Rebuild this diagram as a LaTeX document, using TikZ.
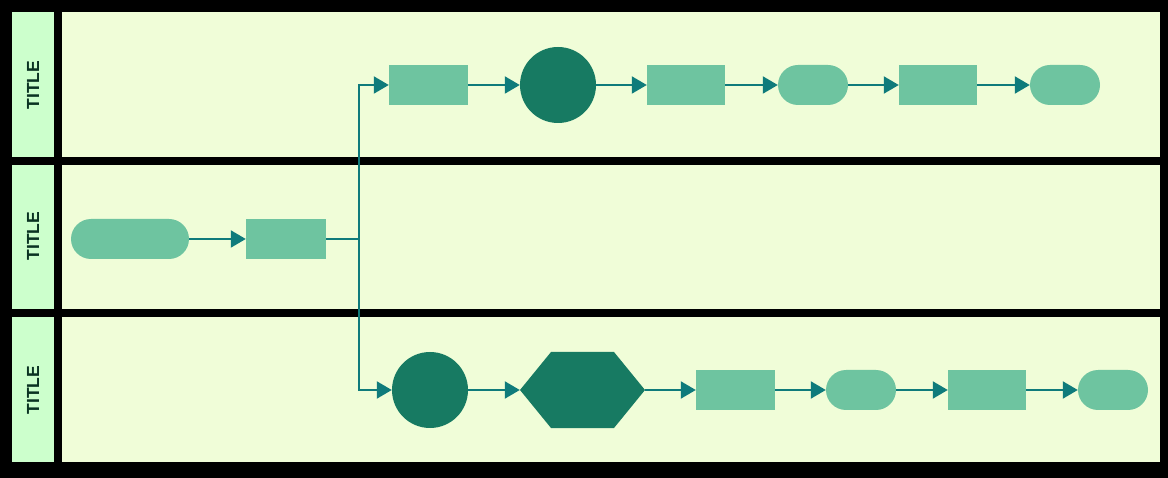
\documentclass[tikz,border=0pt]{standalone}
\usepackage{fontspec}
\setmainfont{Liberation Sans}
\usetikzlibrary{positioning,arrows.meta,shapes.geometric}

\definecolor{lanebg}{HTML}{F0FDD8}
\definecolor{titlebg}{HTML}{CCFFCC}
\definecolor{titletxt}{HTML}{0A3322}
\definecolor{lightgreen}{HTML}{6EC4A0}
\definecolor{darkgreen}{HTML}{177A62}
\definecolor{flowline}{HTML}{0F7B7B}

\tikzset{
  task/.style={fill=lightgreen, minimum width=79pt, minimum height=40pt, inner sep=0pt},
  pill/.style={fill=lightgreen, rounded corners=20pt, minimum width=70pt, minimum height=40pt, inner sep=0pt},
  event/.style={circle, fill=darkgreen, minimum size=76pt, inner sep=0pt},
  hexbox/.style={minimum width=125pt, minimum height=76pt, inner sep=0pt,
    path picture={\fill[darkgreen] (path picture bounding box.west)
      -- ([xshift=31pt]path picture bounding box.north west)
      -- ([xshift=-31pt]path picture bounding box.north east)
      -- (path picture bounding box.east)
      -- ([xshift=-31pt]path picture bounding box.south east)
      -- ([xshift=31pt]path picture bounding box.south west) -- cycle;}},
  flow/.style={draw=flowline, line width=2pt},
  flowarrow/.style={flow, -{Triangle[length=15pt,width=17pt]}},
  lanetitle/.style={rotate=90, font=\bfseries\fontsize{17.5}{17.5}\selectfont, text=titletxt}
}

\begin{document}
\begin{tikzpicture}[x=1pt, y=-1pt]
    % Fundo e raias
    \fill[black] (0,0) rectangle (1168,478);
    \fill[titlebg] (12,12) rectangle (54,157);
    \fill[titlebg] (12,165) rectangle (54,309);
    \fill[titlebg] (12,317) rectangle (54,462);
    \fill[lanebg] (62,12) rectangle (1160,157);
    \fill[lanebg] (62,165) rectangle (1160,309);
    \fill[lanebg] (62,317) rectangle (1160,462);
    \node[lanetitle] (t1) at (33,85) {TITLE};
    \node[lanetitle] (t2) at (33,236) {TITLE};
    \node[lanetitle] (t3) at (33,390) {TITLE};

    % Raia 2
    \node[pill, minimum width=118pt] (start) at (130,239) {};
    \node[task, minimum width=80pt] (r0) at (286,239) {};
    \coordinate (split) at (359,239);

    % Raia 1
    \node[task] (a1) at (428.5,85) {};
    \node[event] (a2) at (558,85) {};
    \node[task, minimum width=78pt] (a3) at (686,85) {};
    \node[pill] (a4) at (813,85) {};
    \node[task, minimum width=78pt] (a5) at (938,85) {};
    \node[pill] (a6) at (1065,85) {};

    % Raia 3
    \node[event] (b1) at (430,390) {};
    \node[hexbox] (b2) at (582.5,390) {};
    \node[task] (b3) at (735.5,390) {};
    \node[pill] (b4) at (861,390) {};
    \node[task, minimum width=78pt] (b5) at (987,390) {};
    \node[pill] (b6) at (1113,390) {};

    % Conectores
    \draw[flowarrow] (start) -- (r0);
    \draw[flow] (r0) -- (split);
    \draw[flowarrow] (split) |- (a1.west);
    \draw[flowarrow] (split) |- (b1.west);
    \draw[flowarrow] (a1) -- (a2);
    \draw[flowarrow] (a2) -- (a3);
    \draw[flowarrow] (a3) -- (a4);
    \draw[flowarrow] (a4) -- (a5);
    \draw[flowarrow] (a5) -- (a6);
    \draw[flowarrow] (b1) -- (b2.west);
    \draw[flowarrow] (b2.east) -- (b3);
    \draw[flowarrow] (b3) -- (b4);
    \draw[flowarrow] (b4) -- (b5);
    \draw[flowarrow] (b5) -- (b6);
\end{tikzpicture}
\end{document}
